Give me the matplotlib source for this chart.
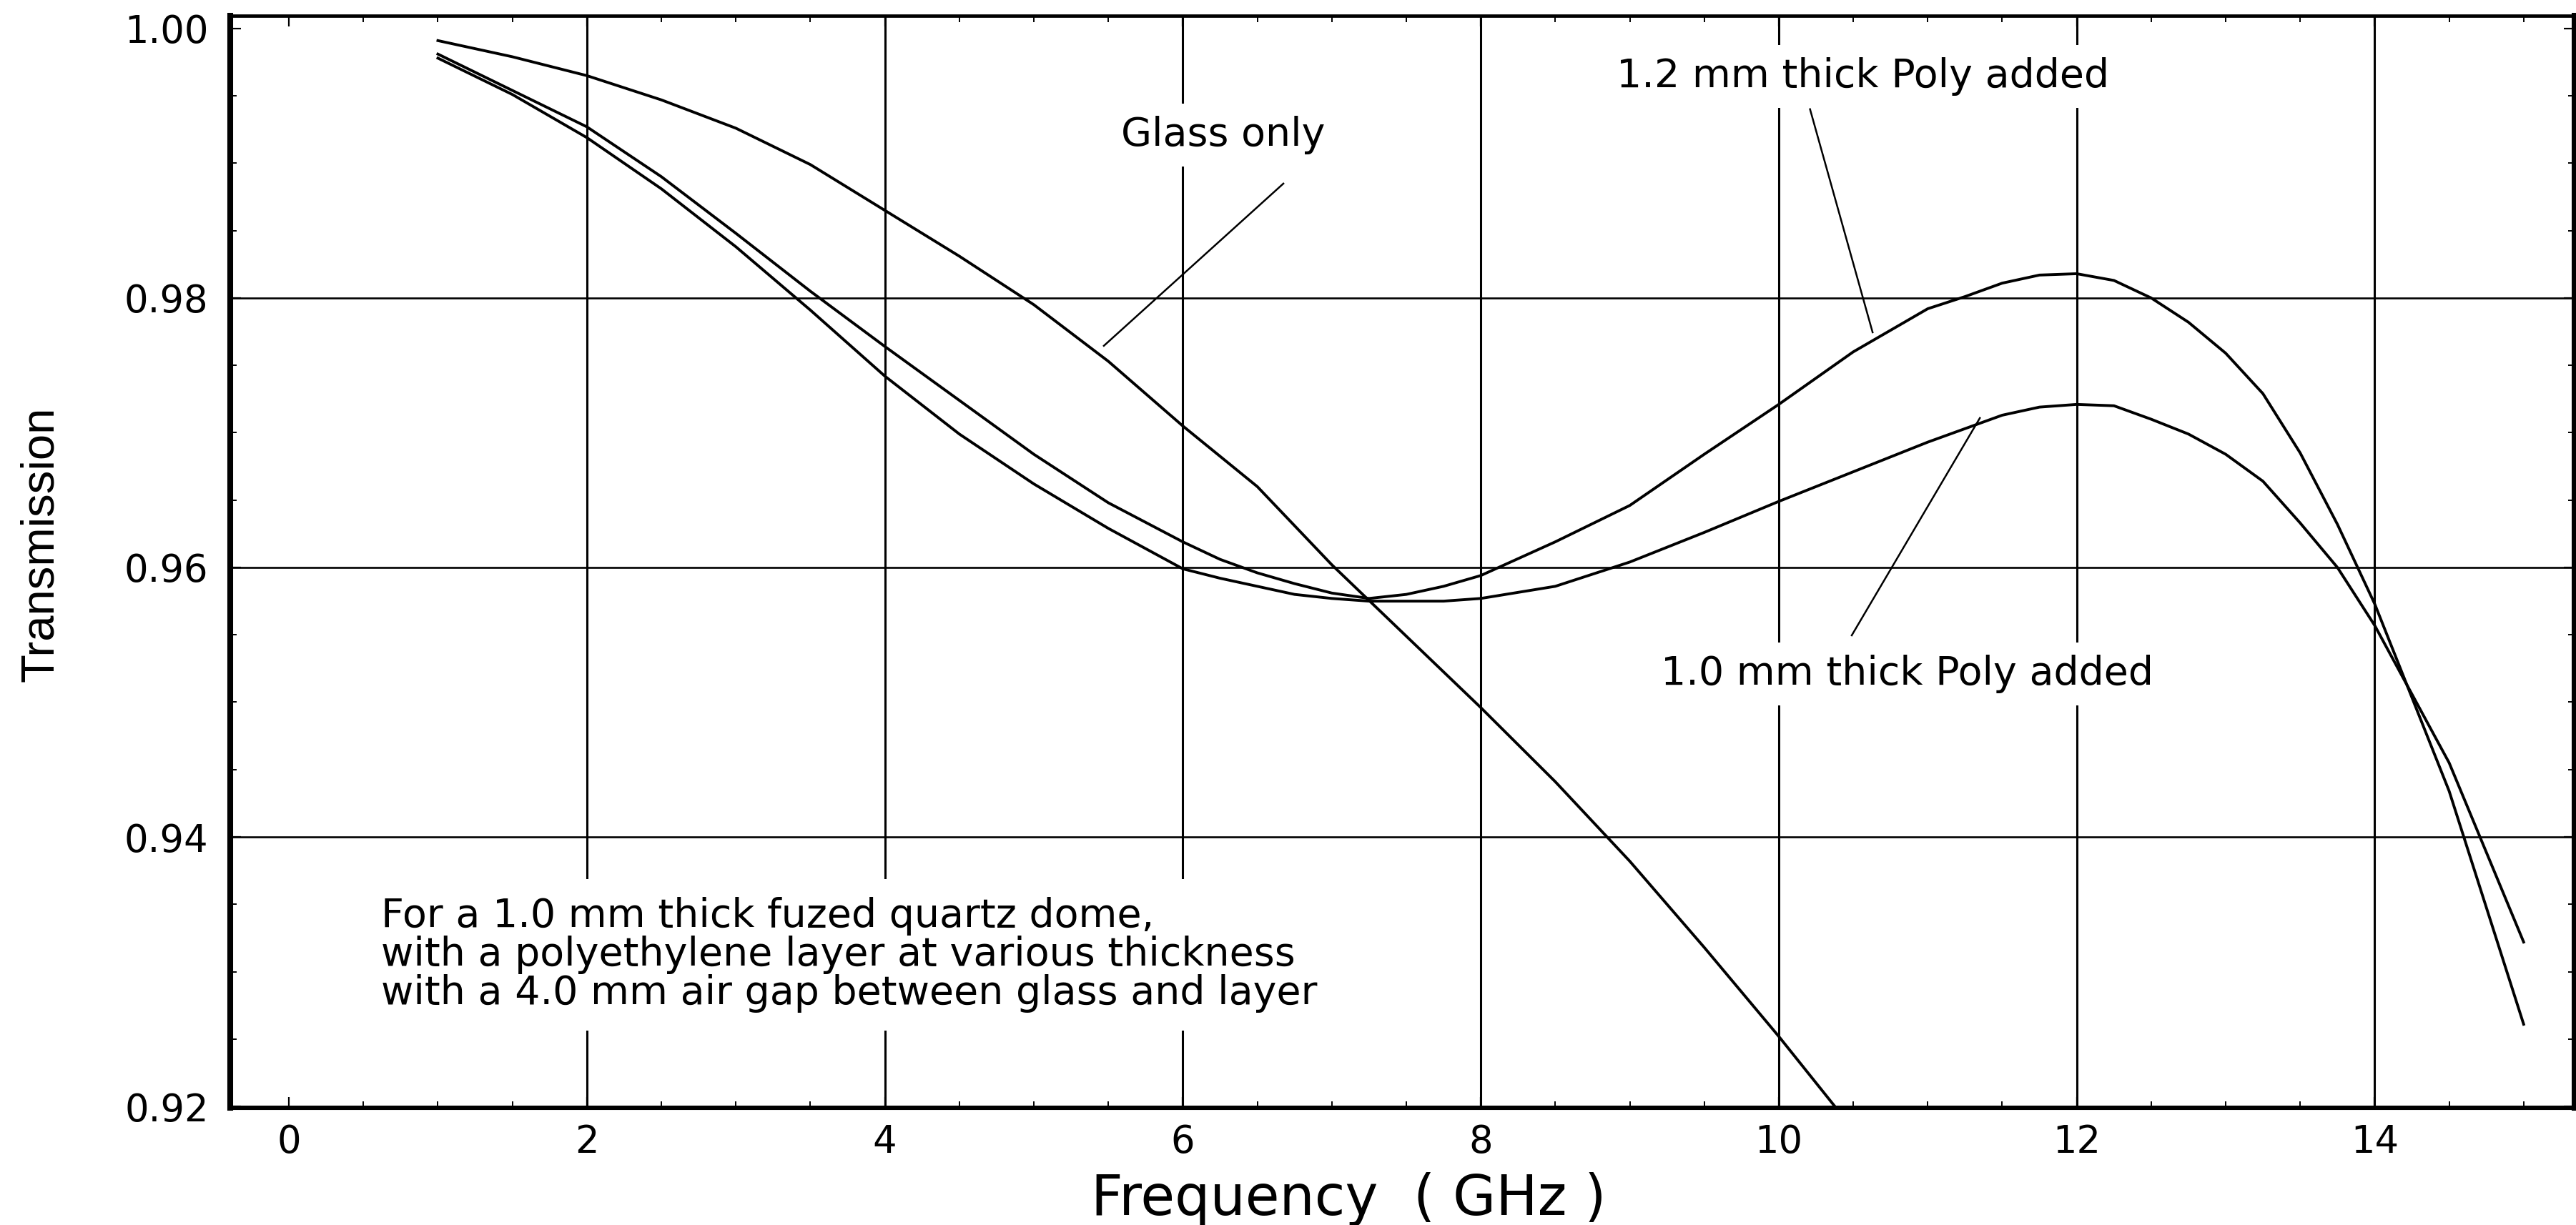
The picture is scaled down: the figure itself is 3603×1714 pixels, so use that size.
import matplotlib.pyplot as plt
from matplotlib.ticker import FixedLocator, MultipleLocator

plt.rcParams["font.family"] = ["DejaVu Sans"]

# bare quartz dome, runs off the bottom of the plot past ~10.4 GHz
freq_glass = [1.0, 1.5, 2.0, 2.5, 3.0, 3.5, 4.0, 4.5, 5.0, 5.5, 6.0, 6.5, 7.0,
              7.5, 8.0, 8.5, 9.0, 9.5, 10.0, 10.5]
glass_only = [0.9991, 0.9979, 0.9965, 0.9947, 0.9926, 0.9899, 0.9865, 0.9831,
              0.9795, 0.9753, 0.9705, 0.9660, 0.9602, 0.9549, 0.9496, 0.9441,
              0.9382, 0.9318, 0.9252, 0.9183]

# dome + polyethylene layer, sampled finer around the dip and the peak
freq_poly = [1.0, 1.5, 2.0, 2.5, 3.0, 3.5, 4.0, 4.5, 5.0, 5.5, 6.0, 6.25, 6.5,
             6.75, 7.0, 7.25, 7.5, 7.75, 8.0, 8.5, 9.0, 9.5, 10.0, 10.5, 11.0,
             11.25, 11.5, 11.75, 12.0, 12.25, 12.5, 12.75, 13.0, 13.25, 13.5,
             13.75, 14.0, 14.5, 15.0]
poly_12mm = [0.9981, 0.9954, 0.9927, 0.9890, 0.9848, 0.9805, 0.9764, 0.9724,
             0.9684, 0.9648, 0.9619, 0.9606, 0.9596, 0.9588, 0.9581, 0.9577,
             0.9580, 0.9586, 0.9594, 0.9619, 0.9646, 0.9684, 0.9721, 0.9760,
             0.9792, 0.9801, 0.9811, 0.9817, 0.9818, 0.9813, 0.9800, 0.9782,
             0.9759, 0.9729, 0.9685, 0.9632, 0.9573, 0.9434, 0.9261]
poly_10mm = [0.9978, 0.9951, 0.9919, 0.9881, 0.9838, 0.9791, 0.9742, 0.9699,
             0.9662, 0.9629, 0.9599, 0.9592, 0.9586, 0.9580, 0.9577, 0.9575,
             0.9575, 0.9575, 0.9577, 0.9586, 0.9604, 0.9626, 0.9649, 0.9671,
             0.9693, 0.9703, 0.9713, 0.9719, 0.9721, 0.9720, 0.9710, 0.9699,
             0.9684, 0.9664, 0.9633, 0.9600, 0.9557, 0.9455, 0.9322]

x_ticks = [0, 2, 4, 6, 8, 10, 12, 14]
y_ticks = [0.92, 0.94, 0.96, 0.98, 1.00]

note_lines = [
    "For a 1.0 mm thick fuzed quartz dome,",
    "with a polyethylene layer at various thickness",
    "with a 4.0 mm air gap between glass and layer",
]

fig, ax = plt.subplots(figsize=(18.015, 8.57), dpi=200)
fig.subplots_adjust(left=0.0894, right=0.9994, bottom=0.0957, top=0.9872)

ax.set_xlim(-0.3935, 15.341)
ax.set_ylim(0.9199, 1.00095)

# grid only on the inner major ticks
for x in x_ticks[1:]:
    ax.axvline(x, color="black", lw=1.1, zorder=1)
for y in y_ticks[1:-1]:
    ax.axhline(y, color="black", lw=0.95, zorder=1)

line_kw = dict(color="black", lw=1.4, zorder=3, solid_joinstyle="round")
ax.plot(freq_glass, glass_only, **line_kw)
ax.plot(freq_poly, poly_12mm, **line_kw)
ax.plot(freq_poly, poly_10mm, **line_kw)

box = dict(facecolor="white", edgecolor="none", boxstyle="square,pad=0.3")
ax.text(5.585, 0.9913, "Glass only", fontsize=20, va="baseline", bbox=box, zorder=2)
ax.text(8.91, 0.99565, "1.2 mm thick Poly added", fontsize=20, va="baseline",
        bbox=box, zorder=2)
ax.text(9.21, 0.9513, "1.0 mm thick Poly added", fontsize=20, va="baseline",
        bbox=box, zorder=2)

# leader lines from the labels to their curves
leader_kw = dict(color="black", lw=0.9, zorder=3)
ax.plot([6.675, 5.47], [0.98849, 0.97645], **leader_kw)
ax.plot([10.21, 10.63], [0.99401, 0.97745], **leader_kw)
ax.plot([10.49, 11.35], [0.95496, 0.97109], **leader_kw)

# multi-line note: y is the baseline of the last line
ax.text(0.62, 0.92759, "\n".join(note_lines), fontsize=20, va="baseline",
        linespacing=1.0, zorder=2,
        bbox=dict(facecolor="white", edgecolor="none", boxstyle="square,pad=0.45"))

ax.xaxis.set_major_locator(FixedLocator(x_ticks))
ax.xaxis.set_minor_locator(MultipleLocator(0.5))
ax.yaxis.set_major_locator(FixedLocator(y_ticks))
ax.yaxis.set_minor_locator(MultipleLocator(0.005))
ax.set_xticklabels([str(v) for v in x_ticks])
ax.set_yticklabels([f"{v:.2f}" for v in y_ticks])

ax.tick_params(which="both", direction="in", top=True, right=True, colors="black")
ax.tick_params(which="major", length=5.4, width=0.8, labelsize=19)
ax.tick_params(which="minor", length=3.2, width=0.7)
ax.tick_params(axis="x", pad=8)
ax.tick_params(axis="y", pad=11)

ax.spines["left"].set_linewidth(2.9)
ax.spines["right"].set_linewidth(2.9)
ax.spines["top"].set_linewidth(1.7)
ax.spines["bottom"].set_linewidth(2.2)

ax.set_xlabel("Frequency  ( GHz )", fontsize=28)
ax.xaxis.set_label_coords(0.477, -0.0982)
ax.xaxis.label.set_verticalalignment("baseline")

ax.set_ylabel("Transmission", fontsize=23.5, family="Liberation Sans")
ax.yaxis.set_label_coords(-0.0808, 0.5164)
ax.yaxis.label.set_verticalalignment("center")

fig.savefig("out.png", dpi=200)
